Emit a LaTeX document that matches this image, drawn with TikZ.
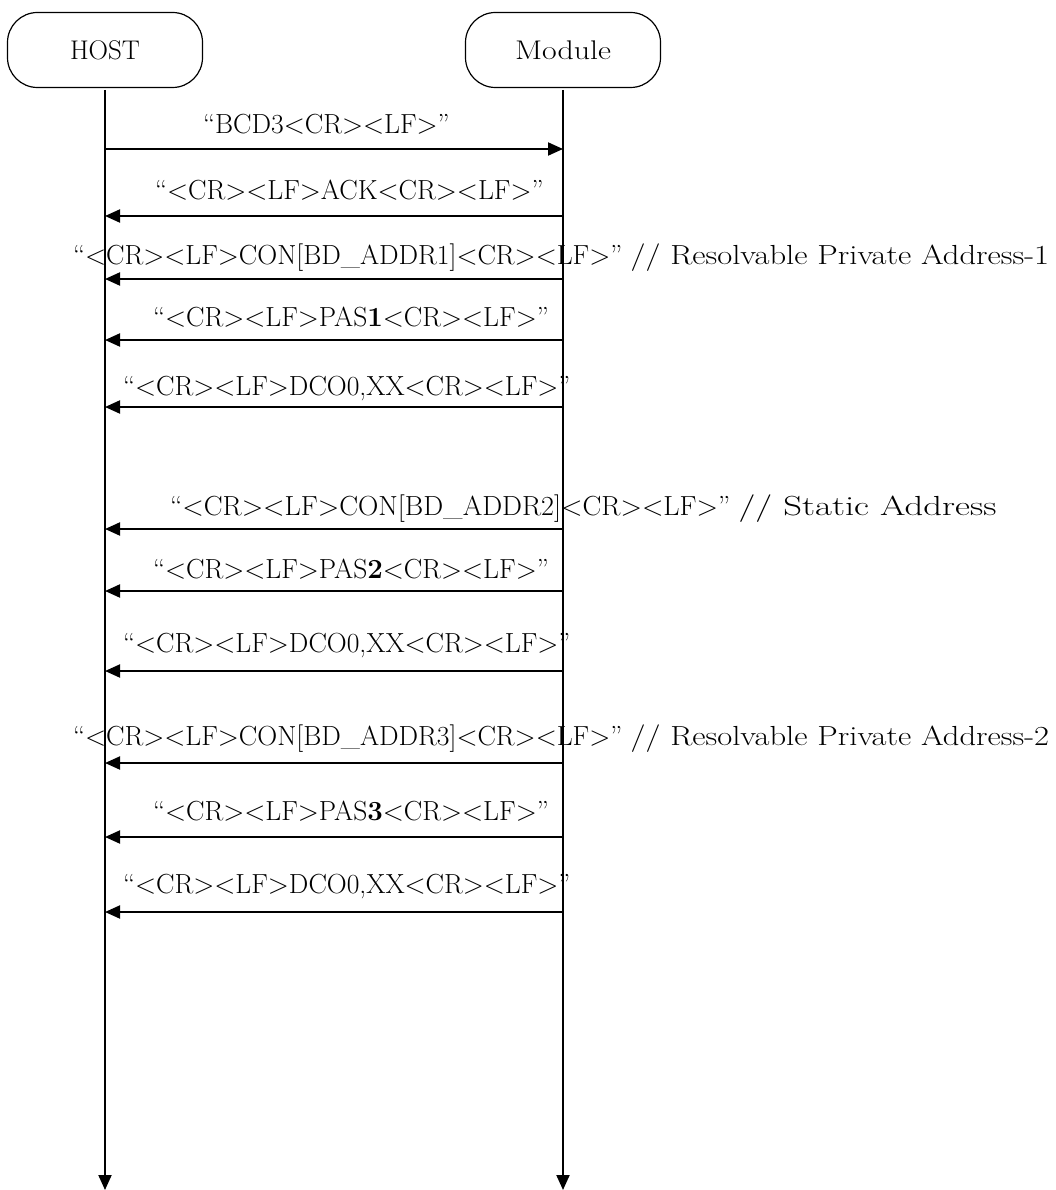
\documentclass[tikz,border=0pt]{standalone}
\usetikzlibrary{arrows.meta}
\newcommand{\widen}[2]{\scalebox{#1}[1]{#2}}
\begin{document}
\begin{tikzpicture}[x=1pt,y=-1pt,
  actor/.style={draw,line width=1.2pt,rounded corners=30pt,minimum width=195pt,minimum height=75pt,inner sep=0pt,font=\fontsize{27}{32}\selectfont},
  life/.style={line width=2pt,-{Triangle[length=15pt,width=13pt]}},
  msg/.style={line width=2pt,-{Triangle[length=15pt,width=13pt]}},
  lbl/.style={anchor=base west,inner sep=0pt,font=\fontsize{27.6}{32}\selectfont}]
\useasboundingbox (0,0) rectangle (1056,1190);
\node[actor] (host) at (105,50) {HOST};
\node[actor] (mod) at (563,50) {\scalebox{1.18}[1]{Module}};
\coordinate (hs) at (105,90);
\coordinate (he) at (105,1190);
\coordinate (ms) at (563,90);
\coordinate (me) at (563,1190);
\draw[life] (hs) -- (he);
\draw[life] (ms) -- (me);
% message rows
\foreach \n/\y in {1/149,2/216,3/279,4/340,5/407,6/529,7/591,8/671,9/763,10/837,11/912}{
  \coordinate (h\n) at (105,\y);
  \coordinate (m\n) at (563,\y);
}
\draw[msg] (h1) -- (m1);
\foreach \n in {2,...,11}{\draw[msg] (m\n) -- (h\n);}
\node[lbl] (t1) at (203,134) {“BCD3<CR><LF>”};
\node[lbl] (t2) at (155,200) {“<CR><LF>ACK<CR><LF>”};
\node[lbl] (t3) at (73,265) {“<CR><LF>CON[BD\_ADDR1]<CR><LF>” \widen{1.18}{// Resolvable Private Address-1}};
\node[lbl] (t4) at (153,326) {“<CR><LF>PAS\textbf{1}<CR><LF>”};
\node[lbl] (t5) at (123,395) {“<CR><LF>DCO0,XX<CR><LF>”};
\node[lbl] (t6) at (170,515) {\widen{1.02}{“<CR><LF>CON[BD\_ADDR2]<CR><LF>”} \widen{1.33}{// Static Address}};
\node[lbl] (t7) at (153,578) {“<CR><LF>PAS\textbf{2}<CR><LF>”};
\node[lbl] (t8) at (123,652) {“<CR><LF>DCO0,XX<CR><LF>”};
\node[lbl] (t9) at (73,745) {“<CR><LF>CON[BD\_ADDR3]<CR><LF>” \widen{1.18}{// Resolvable Private Address-2}};
\node[lbl] (t10) at (153,820) {“<CR><LF>PAS\textbf{3}<CR><LF>”};
\node[lbl] (t11) at (123,893) {“<CR><LF>DCO0,XX<CR><LF>”};
\end{tikzpicture}
\end{document}
